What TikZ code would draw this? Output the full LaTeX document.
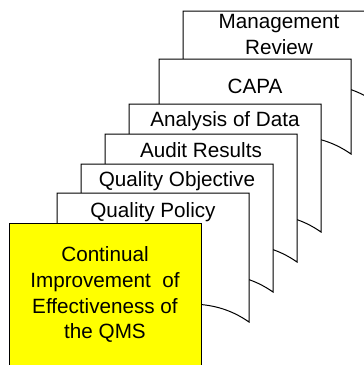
\documentclass[tikz,border=0pt]{standalone}
\usepackage{fontspec}
\setmainfont{Liberation Sans}
\usepackage{xcolor}
\usetikzlibrary{positioning}
\definecolor{qmsyellow}{HTML}{FFFF00}

\begin{document}
\begin{tikzpicture}[x=0.75pt, y=-0.75pt,
  sheet/.style={draw=black, fill=white, line width=0.75pt},
  sheettext/.style={font=\fontsize{15.5}{19.2}\selectfont, align=center, inner sep=0pt}]
\useasboundingbox (0,0) rectangle (364,365);
\clip (0,0) rectangle (364,365);
% stacked records, back to front
\foreach \l/\t/\h/\cy/\nm/\txt in {183/11/91/34.7/review/{Management\\Review},
    159/59/95/85.9/capa/{CAPA},
    129/104/128/121.4/analysis/{Analysis of Data},
    105/134/128/149.9/audit/{Audit Results},
    81/164/128/181.4/objective/{Quality Objective},
    57/193/129/211.7/policy/{Quality Policy}}{
  \draw[sheet] (\l,\t) -- (\l+192,\t) -- (\l+192,\t+\h)
    .. controls (\l+172,\t+\h-14) and (\l+152,\t+\h-18) .. (\l+132,\t+\h-18)
    .. controls (\l+90,\t+\h-18) and (\l+50,\t+\h+4) .. (\l,\t+\h-6) -- cycle;
  \node[sheettext] (\nm) at (\l+96,\cy) {\txt};
}
% front: the goal
\draw[sheet, fill=qmsyellow] (9,223) rectangle (201,380);
\node[sheettext] (qms) at (105,294.8) {Continual\\Improvement\ \ of\\Effectiveness of\\the QMS};
\end{tikzpicture}
\end{document}
